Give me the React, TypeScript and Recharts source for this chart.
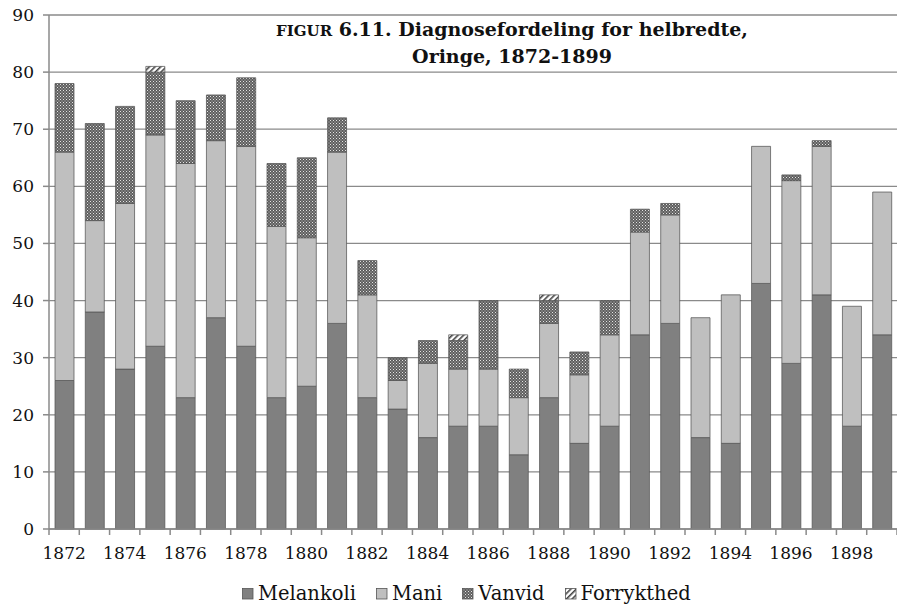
import React from 'react';
import { BarChart, Bar, XAxis, YAxis, CartesianGrid, Legend } from 'recharts';

const years = [1872, 1873, 1874, 1875, 1876, 1877, 1878, 1879, 1880, 1881, 1882, 1883, 1884, 1885, 1886, 1887, 1888, 1889, 1890, 1891, 1892, 1893, 1894, 1895, 1896, 1897, 1898, 1899];
const melankoli = [26, 38, 28, 32, 23, 37, 32, 23, 25, 36, 23, 21, 16, 18, 18, 13, 23, 15, 18, 34, 36, 16, 15, 43, 29, 41, 18, 34];
const mani = [40, 16, 29, 37, 41, 31, 35, 30, 26, 30, 18, 5, 13, 10, 10, 10, 13, 12, 16, 18, 19, 21, 26, 24, 32, 26, 21, 25];
const vanvid = [12, 17, 17, 11, 11, 8, 12, 11, 14, 6, 6, 4, 4, 5, 12, 5, 4, 4, 6, 4, 2, 0, 0, 0, 1, 1, 0, 0];
const forrykthed = [0, 0, 0, 1, 0, 0, 0, 0, 0, 0, 0, 0, 0, 1, 0, 0, 1, 0, 0, 0, 0, 0, 0, 0, 0, 0, 0, 0];
const yTicks = [0, 10, 20, 30, 40, 50, 60, 70, 80, 90];
const seriesNames = ['Melankoli', 'Mani', 'Vanvid', 'Forrykthed'];
const titleLine1Prefix = 'FIGUR';
const titleLine1 = ' 6.11. Diagnosefordeling for helbredte,';
const titleLine2 = 'Oringe, 1872-1899';

const data = years.map((y, i) => ({
  year: y,
  Melankoli: melankoli[i],
  Mani: mani[i],
  Vanvid: vanvid[i],
  Forrykthed: forrykthed[i],
}));

const W = 897;
const H = 608;
const Y_AXIS_W = 49;
const X_AXIS_H = 40;
const PLOT_BOTTOM = 529;
const BAND = (W - Y_AXIS_W) / years.length;
const FONT = '"DejaVu Serif", Georgia, serif';
const AXIS_COLOR = '#8a8a8a';
const BAR_STROKE = '#555555';

const fills: Record<string, string> = {
  Melankoli: '#808080',
  Mani: '#bfbfbf',
  Vanvid: 'url(#pVanvid)',
  Forrykthed: 'url(#pForr)',
};

const Patterns = ({ suffix = '' }: { suffix?: string }) => (
  <defs>
    <pattern id={'pVanvid' + suffix} width="3" height="3" patternUnits="userSpaceOnUse">
      <rect width="3" height="3" fill="#5e5e5e" />
      <rect x="0" y="0" width="1" height="1" fill="#e4e4e4" />
      <rect x="1.5" y="1.5" width="1" height="1" fill="#c8c8c8" />
    </pattern>
    <pattern id={'pForr' + suffix} width="4" height="4" patternUnits="userSpaceOnUse" patternTransform="rotate(45)">
      <rect width="4" height="4" fill="#ffffff" />
      <rect x="0" y="0" width="1.6" height="4" fill="#444444" />
    </pattern>
  </defs>
);

const XTick = (props: any) => {
  const { x, y, payload, index } = props;
  const v = Number(payload.value);
  const showLabel = v % 2 === 0;
  return (
    <g>
      <line x1={x - BAND / 2} x2={x - BAND / 2} y1={y} y2={y + 6} stroke={AXIS_COLOR} strokeWidth={1.5} />
      {index === years.length - 1 && (
        <line x1={x + BAND / 2} x2={x + BAND / 2} y1={y} y2={y + 6} stroke={AXIS_COLOR} strokeWidth={1.5} />
      )}
      {showLabel && (
        <text x={x} y={y + 30} textAnchor="middle" fontFamily={FONT} fontSize={17} fill="#111">
          {payload.value}
        </text>
      )}
    </g>
  );
};

const LegendContent = () => (
  <div
    style={{
      display: 'flex',
      flexDirection: 'row',
      alignItems: 'center',
      paddingLeft: 242,
      fontFamily: FONT,
      fontSize: 19.5,
      color: '#111',
      whiteSpace: 'nowrap',
    }}
  >
    {seriesNames.map((name) => (
      <div key={name} style={{ display: 'flex', alignItems: 'center', marginRight: 20 }}>
        <svg width={12} height={12} style={{ marginRight: 4 }}>
          <Patterns suffix="L" />
          <rect
            x={0.5}
            y={0.5}
            width={10.5}
            height={10.5}
            fill={name === 'Vanvid' ? 'url(#pVanvidL)' : name === 'Forrykthed' ? 'url(#pForrL)' : fills[name]}
            stroke={BAR_STROKE}
            strokeWidth={0.8}
          />
        </svg>
        <span>{name}</span>
      </div>
    ))}
  </div>
);

export default function App() {
  return (
    <div style={{ position: 'absolute', left: 0, top: 0, width: W, height: H, background: '#fff' }}>
      <BarChart
        width={W}
        height={H}
        data={data}
        margin={{ top: 15, right: 0, left: 0, bottom: H - PLOT_BOTTOM - X_AXIS_H }}
      >
        <Patterns />
        <CartesianGrid vertical={false} stroke={AXIS_COLOR} strokeWidth={1.3} />
        <XAxis
          dataKey="year"
          height={X_AXIS_H}
          interval={0}
          tickSize={0}
          tickMargin={0}
          tickLine={false}
          tick={<XTick />}
          axisLine={{ stroke: AXIS_COLOR, strokeWidth: 1.5 }}
        />
        <YAxis
          width={Y_AXIS_W}
          domain={[0, 90]}
          ticks={yTicks}
          interval={0}
          tickSize={6}
          tickMargin={9}
          tickLine={{ stroke: AXIS_COLOR, strokeWidth: 1.5 }}
          axisLine={{ stroke: AXIS_COLOR, strokeWidth: 1.5 }}
          tick={{ fontFamily: FONT, fontSize: 17, fill: '#111' }}
        />
        <Legend
          layout="horizontal"
          verticalAlign="middle"
          align="center"
          wrapperStyle={{ top: 582, left: 0, width: W }}
          content={<LegendContent />}
        />
        {seriesNames.map((name) => (
          <Bar
            key={name}
            dataKey={name}
            stackId="a"
            barSize={19}
            fill={fills[name]}
            stroke={BAR_STROKE}
            strokeWidth={0.75}
            isAnimationActive={false}
          />
        ))}
      </BarChart>
      <div
        style={{
          position: 'absolute',
          left: 212,
          top: 17,
          width: 600,
          textAlign: 'center',
          fontFamily: FONT,
          fontWeight: 'bold',
          fontSize: 19,
          lineHeight: '25px',
          color: '#111',
          pointerEvents: 'none',
        }}
      >
        <div>
          <span style={{ fontSize: 15 }}>{titleLine1Prefix}</span>
          {titleLine1}
        </div>
        <div>{titleLine2}</div>
      </div>
    </div>
  );
}
